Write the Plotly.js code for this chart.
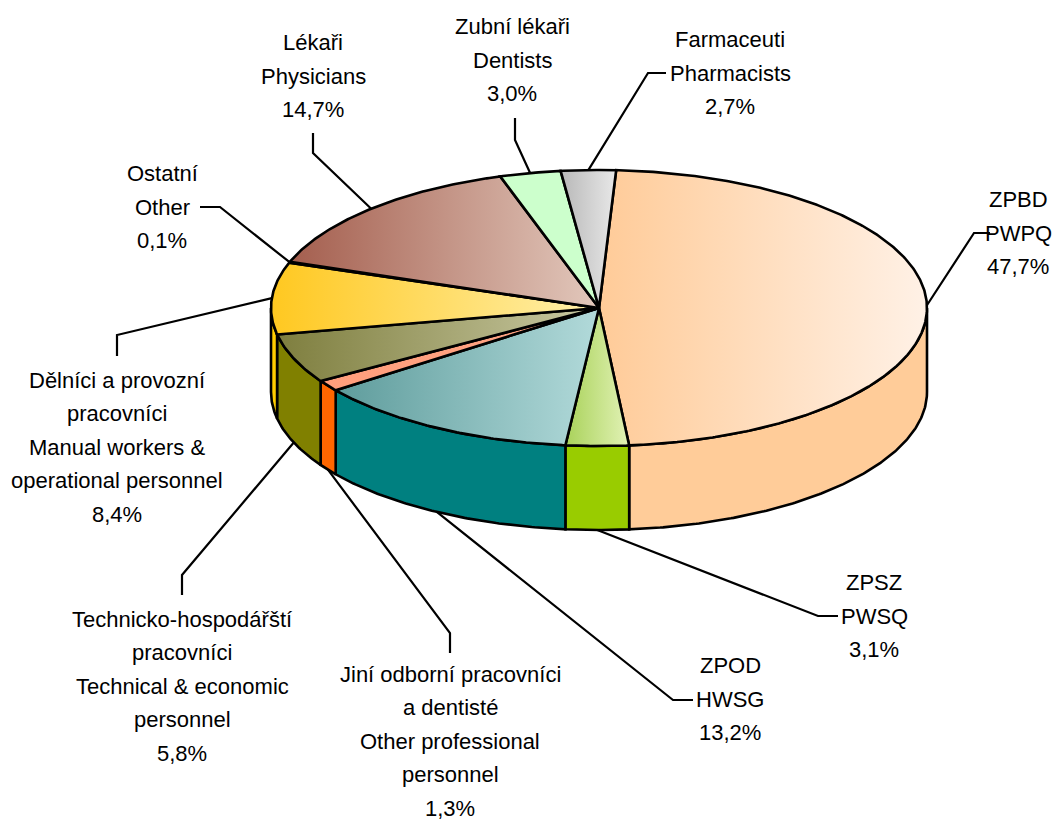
<!DOCTYPE html>
<html>
<head>
<meta charset="utf-8">
<script src="https://cdn.plot.ly/plotly-3.0.1.min.js"></script>
<style>html,body{margin:0;padding:0;background:#fff;}#chart{width:1061px;height:822px;}</style>
</head>
<body>
<div id="chart"></div>
<script>
// ---- data ----
const categories = ['ZPBD<br>PWPQ', 'ZPSZ<br>PWSQ', 'ZPOD<br>HWSG',
  'Jiní odborní pracovníci<br>a dentisté<br>Other professional<br>personnel',
  'Technicko-hospodářští<br>pracovníci<br>Technical & economic<br>personnel',
  'Dělníci a provozní<br>pracovníci<br>Manual workers &<br>operational personnel',
  'Ostatní<br>Other', 'Lékaři<br>Physicians', 'Zubní lékaři<br>Dentists', 'Farmaceuti<br>Pharmacists'];
const shares = [47.7, 3.1, 13.2, 1.3, 5.8, 8.4, 0.1, 14.7, 3.0, 2.7];

// ---- styles ----
const topFrom = ['#FFCB98', '#A9D25A', '#5E9C9C', '#FF9E7C', '#7E7E3E', '#FFC820', '#C0C0C0', '#A45E4E', '#CCFFCC', '#B8B8B8'];
const topTo   = ['#FFF1E6', '#E2F2B6', '#B2DADA', '#FFA585', '#CACAA4', '#FFF0AC', '#E0E0E0', '#E2C8BC', '#CCFFCC', '#E8E8E8'];
const sideColor = ['#FFCC99', '#99CC00', '#008080', '#FF6600', '#808000', '#FFCC00', '#999999', '#993333', '#99CC99', '#999999'];
const FONT = {family: '"Liberation Sans", Arial, sans-serif', size: 22, color: '#000'};
const LINE_GAP = 33.5;

// label layout: text block centre, elbow, end of leader
const labelPos = [
  {x: 1018, y: 233, ex: 974, ey: 233, lx: 990, ly: 233},
  {x: 874, y: 616, ex: 818, ey: 616, lx: 838, ly: 616},
  {x: 730, y: 699, ex: 673, ey: 700, lx: 693, ly: 700},
  {x: 450, y: 741, ex: 450, ey: 633, lx: 450, ly: 653},
  {x: 182, y: 686, ex: 182, ey: 575, lx: 182, ly: 595},
  {x: 117, y: 447, ex: 117, ey: 335, lx: 117, ly: 356},
  {x: 162, y: 207, ex: 220, ey: 207, lx: 200, ly: 207},
  {x: 313, y: 76, ex: 313, ey: 153, lx: 313, ly: 133},
  {x: 512, y: 60, ex: 515, ey: 140, lx: 515, ly: 118},
  {x: 730, y: 73, ex: 648, ey: 73, lx: 666, ly: 73}
];

// ---- geometry ----
const CX = 599, CY = 308, RX = 328, RY = 138, DEPTH = 84, START = 3;
const rad = d => d * Math.PI / 180;
function pt(t, dz) { return [CX + RX * Math.sin(rad(t)), CY - RY * Math.cos(rad(t)) + dz]; }
function arc(t0, t1, dz) {
  const n = Math.max(2, Math.ceil(Math.abs(t1 - t0) / 0.5));
  const xs = [], ys = [];
  for (let k = 0; k <= n; k++) { const p = pt(t0 + (t1 - t0) * k / n, dz); xs.push(p[0]); ys.push(p[1]); }
  return [xs, ys];
}

const walls = [], tops = [], leaders = [], annotations = [];
let cum = 0;
shares.forEach((v, i) => {
  const t0 = START + cum / 100 * 360;
  cum += v;
  const t1 = START + cum / 100 * 360;
  // front wall
  const a = Math.max(t0, 90), b = Math.min(t1, 270);
  if (b > a) {
    const top = arc(a, b, 0), bot = arc(b, a, DEPTH);
    const xs = top[0].concat(bot[0]); xs.push(top[0][0]);
    const ys = top[1].concat(bot[1]); ys.push(top[1][0]);
    walls.push({type: 'scatter', mode: 'lines', x: xs, y: ys, fill: 'toself', fillcolor: sideColor[i],
      line: {color: '#000', width: 2.6}, hoverinfo: 'skip'});
  }
  // top face
  const ar = arc(t0, t1, 0);
  const xs = [CX].concat(ar[0], [CX]);
  const ys = [CY].concat(ar[1], [CY]);
  tops.push({type: 'scatter', mode: 'lines', x: xs, y: ys, fill: 'toself', fillcolor: topFrom[i],
    fillgradient: {type: 'horizontal', colorscale: [[0, topFrom[i]], [1, topTo[i]]]},
    line: {color: '#000', width: 2.6}, hoverinfo: 'skip'});
  // leader line
  const tm = (t0 + t1) / 2;
  const dz = Math.cos(rad(tm)) < -0.2 ? DEPTH : 0;
  const s = pt(tm, dz);
  const L = labelPos[i];
  leaders.push({type: 'scatter', mode: 'lines', x: [s[0], L.ex, L.lx], y: [s[1], L.ey, L.ly],
    line: {color: '#000', width: 2.2}, hoverinfo: 'skip'});
  // label lines
  const lines = (categories[i] + '<br>' + v.toFixed(1).replace('.', ',') + '%').split('<br>');
  lines.forEach((txt, k) => {
    annotations.push({x: L.x, y: L.y + (k - (lines.length - 1) / 2) * LINE_GAP, xref: 'x', yref: 'y',
      showarrow: false, xanchor: 'center', yanchor: 'middle', text: txt, font: FONT});
  });
});

const layout = {
  width: 1061, height: 822, margin: {l: 0, r: 0, t: 0, b: 0},
  paper_bgcolor: '#fff', plot_bgcolor: '#fff', showlegend: false,
  xaxis: {range: [0, 1061], visible: false, fixedrange: true},
  yaxis: {range: [822, 0], visible: false, fixedrange: true},
  annotations: annotations
};
Plotly.newPlot('chart', leaders.concat(walls, tops), layout, {staticPlot: true, displayModeBar: false});
</script>
</body>
</html>
